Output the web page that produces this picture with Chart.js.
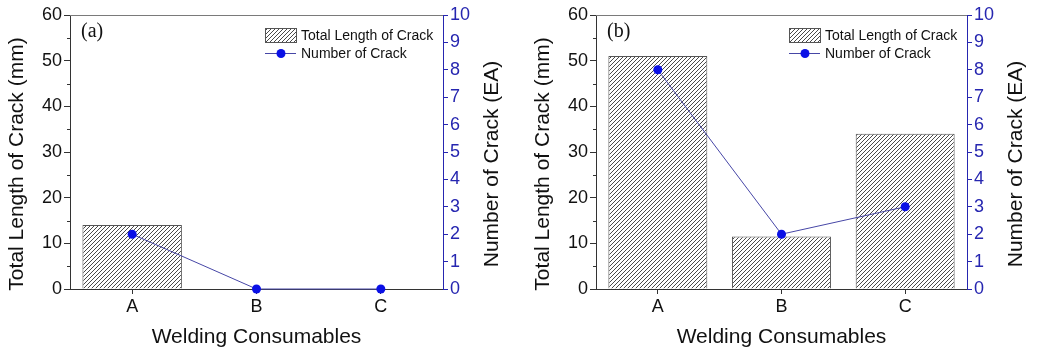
<!DOCTYPE html>
<html>
<head>
<meta charset="utf-8">
<script src="https://cdn.jsdelivr.net/npm/chart.js@4.4.1/dist/chart.umd.min.js"></script>
<style>
html, body { margin: 0; padding: 0; background: #fff; }
#wrap { position: relative; width: 1039px; height: 354px; }
.panel { position: absolute; top: 0; height: 354px; }
</style>
</head>
<body>
<div id="wrap">
  <div class="panel" style="left:0;width:520px"><canvas id="chart-a"></canvas></div>
  <div class="panel" style="left:520px;width:519px"><canvas id="chart-b"></canvas></div>
</div>
<script>
const categories = ['A', 'B', 'C'];
const lengthTicks = [0, 10, 20, 30, 40, 50, 60];
const countTicks = [0, 1, 2, 3, 4, 5, 6, 7, 8, 9, 10];

// (a)
const crackLengthA = [14, 0, 0];
const crackCountA = [2, 0, 0];
// (b)
const crackLengthB = [51, 11.5, 34];
const crackCountB = [8, 2, 3];

const BLUE = '#2626b0';
const FONT = '"Liberation Sans", Arial, sans-serif';

// "/" hatch, one pixel wide, 4px apart
function hatchPattern() {
  const c = document.createElement('canvas');
  c.width = 4; c.height = 4;
  const g = c.getContext('2d');
  g.fillStyle = '#fff';
  g.fillRect(0, 0, 4, 4);
  g.fillStyle = '#4a4a4a';
  for (let x = 0; x < 4; x++) {
    g.fillRect(x, 3 - x, 1, 1);
  }
  return g.createPattern(c, 'repeat');
}

// frame top edge, minor ticks, axis titles, panel tag and legend
const decor = {
  id: 'decor',
  afterDraw(chart, args, opts) {
    const { ctx, chartArea: a, scales } = chart;
    ctx.save();
    ctx.lineWidth = 1;
    ctx.strokeStyle = '#7a7a7a';
    ctx.beginPath();
    ctx.moveTo(a.left, a.top + 0.5);
    ctx.lineTo(a.right, a.top + 0.5);
    ctx.stroke();

    ctx.strokeStyle = '#333';
    for (let i = 0; i < lengthTicks.length - 1; i++) {
      const v = (lengthTicks[i] + lengthTicks[i + 1]) / 2;
      const py = Math.round(scales.y.getPixelForValue(v)) + 0.5;
      ctx.beginPath();
      ctx.moveTo(a.left - 3, py);
      ctx.lineTo(a.left, py);
      ctx.stroke();
    }

    // y titles (both read bottom to top)
    ctx.fillStyle = '#111';
    ctx.font = '21px ' + FONT;
    ctx.textAlign = 'center';
    ctx.textBaseline = 'middle';
    const cy = (a.top + a.bottom) / 2 + 12;
    [[a.left - 53, 'Total Length of Crack (mm)'], [a.right + 49, 'Number of Crack (EA)']].forEach(([x, t]) => {
      ctx.save();
      ctx.translate(x, cy);
      ctx.rotate(-Math.PI / 2);
      ctx.fillText(t, 0, 0);
      ctx.restore();
    });

    // panel tag
    ctx.font = '20px "Liberation Serif", "Times New Roman", serif';
    ctx.textAlign = 'left';
    ctx.fillStyle = '#111';
    ctx.fillText(opts.tag, a.left + 11, a.top + 17);

    // legend
    const bars = chart.data.datasets[0];
    const line = chart.data.datasets[1];
    const bx = a.right - 178;
    const r1 = a.top + 20, r2 = a.top + 38;
    ctx.fillStyle = bars.backgroundColor;
    ctx.fillRect(bx, r1 - 7, 31, 14);
    ctx.strokeStyle = bars.borderColor;
    ctx.strokeRect(bx + 0.5, r1 - 6.5, 31, 14);
    ctx.strokeStyle = line.borderColor;
    ctx.beginPath();
    ctx.moveTo(bx, r2 + 0.5);
    ctx.lineTo(bx + 31, r2 + 0.5);
    ctx.stroke();
    ctx.fillStyle = line.pointBackgroundColor;
    ctx.beginPath();
    ctx.arc(bx + 16, r2 + 0.5, line.pointRadius, 0, Math.PI * 2);
    ctx.fill();
    ctx.fillStyle = '#111';
    ctx.font = '14px ' + FONT;
    ctx.fillText(bars.label, bx + 36, r1 + 1);
    ctx.fillText(line.label, bx + 36, r2 + 1);
    ctx.restore();
  }
};

function makeChart(id, lengths, counts, tag, leftW, rightW) {
  const tickFont = { family: FONT, size: 18 };
  return new Chart(document.getElementById(id), {
    type: 'bar',
    data: {
      labels: categories,
      datasets: [{
        type: 'bar',
        label: 'Total Length of Crack',
        data: lengths,
        yAxisID: 'y',
        backgroundColor: hatchPattern(),
        borderColor: '#555',
        borderWidth: 1,
        borderSkipped: 'start',
        barPercentage: 0.8,
        categoryPercentage: 1,
        order: 2
      }, {
        type: 'line',
        label: 'Number of Crack',
        data: counts,
        yAxisID: 'y1',
        borderColor: '#4646a6',
        borderWidth: 1,
        pointRadius: 4.5,
        pointBackgroundColor: '#0a10e6',
        pointBorderColor: '#0a10e6',
        pointBorderWidth: 0,
        tension: 0,
        clip: false,
        order: 1
      }]
    },
    options: {
      responsive: true,
      maintainAspectRatio: false,
      animation: false,
      layout: { padding: { top: 15, left: 0, right: 0, bottom: 0 } },
      plugins: {
        legend: { display: false },
        tooltip: { enabled: false },
        decor: { tag: tag }
      },
      scales: {
        x: {
          ticks: { color: '#111', font: tickFont, padding: 2 },
          grid: { drawOnChartArea: false, offset: false, tickLength: 5, color: '#333' },
          border: { color: '#333', width: 1 },
          title: { display: true, text: 'Welding Consumables', color: '#111', font: { family: FONT, size: 21 }, padding: { top: 4, bottom: 4 } },
          afterFit(s) { s.height = 65; }
        },
        y: {
          position: 'left',
          min: lengthTicks[0],
          max: lengthTicks[lengthTicks.length - 1],
          ticks: { stepSize: lengthTicks[1] - lengthTicks[0], color: '#111', font: tickFont, padding: 2 },
          grid: { drawOnChartArea: false, tickLength: 6, color: '#333' },
          border: { color: '#333', width: 1 },
          afterFit(s) { s.width = leftW; }
        },
        y1: {
          position: 'right',
          min: countTicks[0],
          max: countTicks[countTicks.length - 1],
          ticks: { stepSize: countTicks[1] - countTicks[0], color: BLUE, font: tickFont, padding: 2 },
          grid: { drawOnChartArea: false, tickLength: 5, color: BLUE },
          border: { color: BLUE, width: 1 },
          afterFit(s) { s.width = rightW; }
        }
      }
    },
    plugins: [decor]
  });
}

makeChart('chart-a', crackLengthA, crackCountA, '(a)', 70, 77);
makeChart('chart-b', crackLengthB, crackCountB, '(b)', 76, 72);
</script>
</body>
</html>
